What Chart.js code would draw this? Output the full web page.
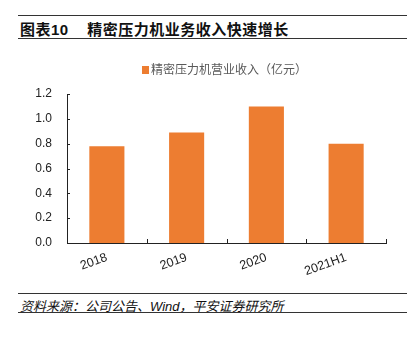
<!DOCTYPE html>
<html>
<head>
<meta charset="utf-8">
<script src="https://cdn.jsdelivr.net/npm/chart.js@4"></script>
<style>
  body { margin: 0; background: #fff; width: 414px; height: 343px; position: relative; overflow: hidden;
         font-family: "Liberation Sans", "Noto Sans CJK SC", sans-serif; }
  .rule { position: absolute; left: 18px; width: 389px; height: 0; border-top: 1.5px solid #333; }
  #title { position: absolute; left: 20px; top: 18px; font-size: 15px; font-weight: bold; color: #111;
           font-family: "Liberation Sans", "Noto Sans CJK SC", sans-serif; letter-spacing: 0.5px; }
  #source { position: absolute; left: 20px; top: 296px; font-size: 13px; font-style: italic; color: #111;
            font-family: "Liberation Sans", "Noto Sans CJK SC", sans-serif; }
  #wrap { position: absolute; left: 0; top: 45px; width: 414px; height: 245px; }
  #legend { position: absolute; left: 142px; top: 60px; font-size: 12px; color: #595959; white-space: nowrap;
            font-family: "Noto Sans CJK SC", sans-serif; line-height: 18px; }
  #legend .box { display: inline-block; width: 7px; height: 8px; background: #ED7D31; margin-right: 2px;
                 vertical-align: -0px; }
</style>
</head>
<body>
<div class="rule" style="top:15px"></div>
<div id="title">图表10&nbsp;&nbsp;&nbsp;&nbsp;精密压力机业务收入快速增长</div>
<div class="rule" style="top:38px"></div>
<div id="wrap"><canvas id="chart" width="414" height="245"></canvas></div>
<div id="legend"><span class="box"></span><span id="legendText"></span></div>
<div class="rule" style="top:293px"></div>
<div id="source">资料来源：公司公告、Wind，平安证券研究所</div>
<div class="rule" style="top:312px"></div>
<script>
const categories = ['2018', '2019', '2020', '2021H1'];
const revenue = [0.78, 0.89, 1.10, 0.80];
const seriesName = '精密压力机营业收入（亿元）';
const yTicks = [0, 0.2, 0.4, 0.6, 0.8, 1.0, 1.2];

document.getElementById('legendText').textContent = seriesName;

// small inward tick marks on both axes
const innerTicks = {
  id: 'innerTicks',
  afterDraw(chart) {
    const ctx = chart.ctx;
    const x = chart.scales.x, y = chart.scales.y;
    const area = chart.chartArea;
    const step = x.getPixelForValue(1) - x.getPixelForValue(0);
    ctx.save();
    ctx.strokeStyle = '#222';
    ctx.lineWidth = 1;
    ctx.beginPath();
    yTicks.forEach(v => {
      const py = Math.round(y.getPixelForValue(v)) + 0.5;
      ctx.moveTo(area.left, py);
      ctx.lineTo(area.left + 3, py);
    });
    for (let i = 0; i < categories.length; i++) {
      const px = Math.round(x.getPixelForValue(i) + step / 2) + 0.5;
      ctx.moveTo(px, area.bottom);
      ctx.lineTo(px, area.bottom - 4);
    }
    ctx.stroke();
    ctx.restore();
  }
};

new Chart(document.getElementById('chart'), {
  type: 'bar',
  data: {
    labels: categories,
    datasets: [{
      label: seriesName,
      data: revenue,
      backgroundColor: '#ED7D31',
      borderWidth: 0,
      categoryPercentage: 1,
      barPercentage: 0.44
    }]
  },
  options: {
    responsive: false,
    animation: false,
    layout: { padding: { left: 0, right: 28, top: 49, bottom: 0 } },
    plugins: {
      legend: { display: false },
      tooltip: { enabled: false }
    },
    scales: {
      y: {
        min: 0, max: 1.2,
        afterFit(scale) { scale.width = 67; },
        afterBuildTicks(scale) { scale.ticks = yTicks.map(v => ({ value: v })); },
        grid: { display: false, drawTicks: false },
        border: { display: true, color: '#222', width: 1 },
        ticks: {
          padding: 15,
          color: '#222',
          font: { size: 12, family: '"Liberation Sans", Arial, sans-serif' },
          callback: v => v.toFixed(1)
        }
      },
      x: {
        afterFit(scale) { scale.height = 47; },
        grid: { display: false, drawTicks: false },
        border: { display: true, color: '#222', width: 1 },
        ticks: {
          minRotation: 20, maxRotation: 20,
          padding: 7,
          color: '#222',
          font: { size: 12.5, family: '"Liberation Sans", Arial, sans-serif' }
        }
      }
    }
  },
  plugins: [innerTicks]
});
</script>
</body>
</html>
